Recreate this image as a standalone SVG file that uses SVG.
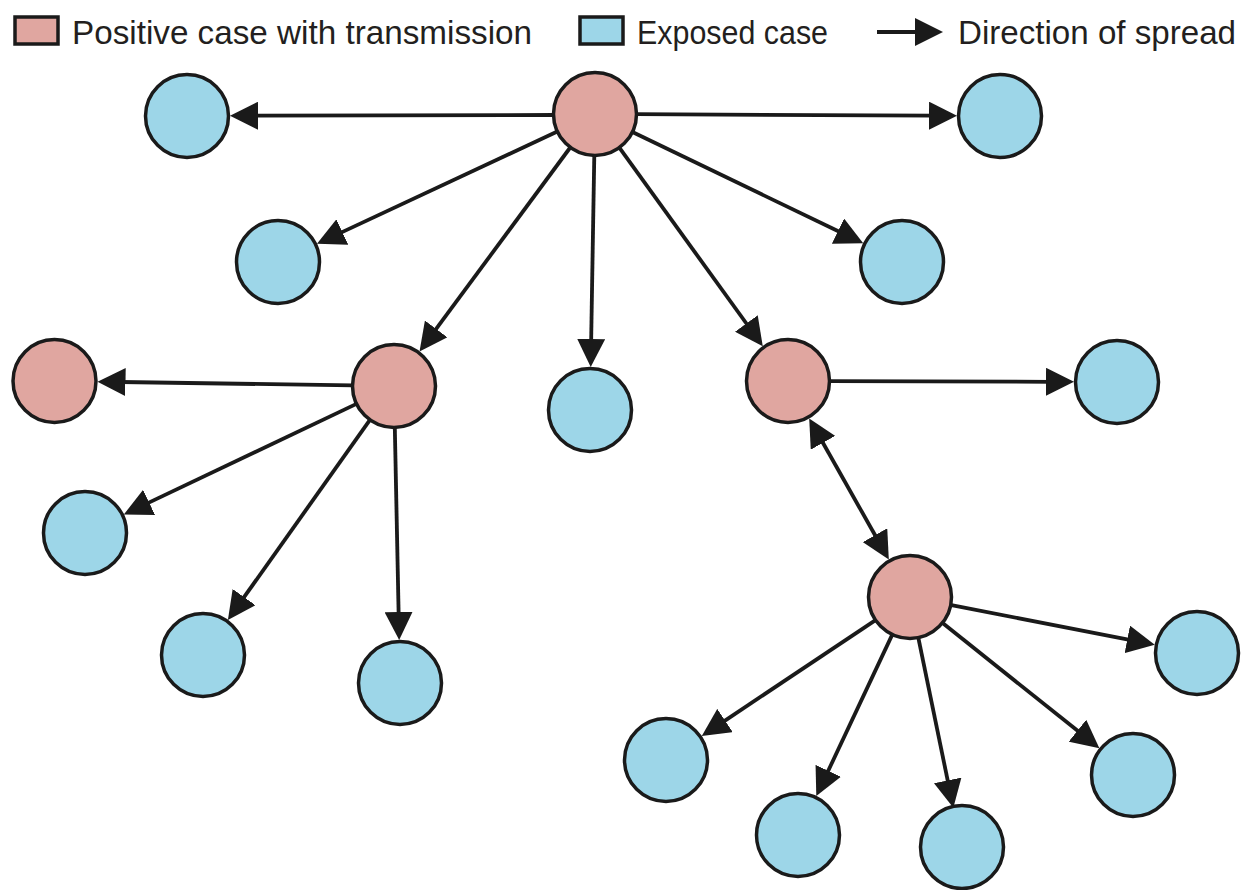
<svg xmlns="http://www.w3.org/2000/svg" width="1250" height="890" viewBox="0 0 1250 890">
<defs>
<style>
.pos{fill:#E0A6A0;stroke:#1a1a1a;stroke-width:3.5}
.exp{fill:#9DD6E8;stroke:#1a1a1a;stroke-width:3.5}
.edge{stroke:#1a1a1a;stroke-width:3.8;fill:none;marker-end:url(#ah)}
.lbl{font-family:"Liberation Sans",Arial,sans-serif;font-size:34px;fill:#231f20}
</style>
<marker id="ah" markerUnits="userSpaceOnUse" markerWidth="28" markerHeight="28" refX="5" refY="14" orient="auto-start-reverse">
<path d="M0,0 L28,14 L0,28 z" fill="#1a1a1a"/>
</marker>
</defs>
<rect width="1250" height="890" fill="#ffffff"/>
<g id="legend">
<rect x="15" y="17" width="43" height="27" class="pos" stroke-width="4"/>
<text x="72" y="44" class="lbl" textLength="460" lengthAdjust="spacingAndGlyphs">Positive case with transmission</text>
<rect x="580" y="17" width="43" height="27" class="exp" stroke-width="4"/>
<text x="637" y="44" class="lbl" textLength="191" lengthAdjust="spacingAndGlyphs">Exposed case</text>
<line x1="877" y1="32" x2="920" y2="32" class="edge"/>
<text x="958" y="44" class="lbl" textLength="278" lengthAdjust="spacingAndGlyphs">Direction of spread</text>
</g>
<g id="connectors">
<line class="edge" x1="554" y1="115" x2="253" y2="115.7"/>
<line class="edge" x1="636" y1="114.2" x2="934" y2="115.7"/>
<line class="edge" x1="557.9" y1="131.3" x2="337.8" y2="234.1"/>
<line class="edge" x1="631.9" y1="131.8" x2="842.5" y2="233.3"/>
<line class="edge" x1="570.6" y1="147" x2="433.2" y2="332.9"/>
<line class="edge" x1="594.3" y1="155" x2="591.1" y2="344"/>
<line class="edge" x1="619" y1="147.2" x2="749.3" y2="327.5"/>
<line class="edge" x1="353" y1="385.4" x2="120.5" y2="382"/>
<line class="edge" x1="357" y1="403.6" x2="144.6" y2="504.6"/>
<line class="edge" x1="370.3" y1="419.4" x2="241.2" y2="601.2"/>
<line class="edge" x1="394.8" y1="427" x2="398.7" y2="617"/>
<line class="edge" x1="829" y1="381.1" x2="1051" y2="381.8"/>
<line class="edge" x1="820.5" y1="438.5" x2="877.5" y2="539.5" marker-start="url(#ah)"/>
<line class="edge" x1="950.2" y1="604.9" x2="1132.2" y2="640.3"/>
<line class="edge" x1="875.9" y1="619.8" x2="720.9" y2="723.3"/>
<line class="edge" x1="942" y1="622.6" x2="1081.4" y2="733.8"/>
<line class="edge" x1="892.5" y1="634.1" x2="826.1" y2="775.3"/>
<line class="edge" x1="918.2" y1="637.2" x2="948.7" y2="785.3"/>
</g>
<g id="n-top"><circle class="pos" cx="595" cy="114" r="41.5"/></g>
<g id="n-topleft"><circle class="exp" cx="187" cy="116" r="41.5"/></g>
<g id="n-topright"><circle class="exp" cx="1000" cy="116" r="41.5"/></g>
<g id="n-row2left"><circle class="exp" cx="278" cy="262" r="41.5"/></g>
<g id="n-row2right"><circle class="exp" cx="902" cy="262" r="41.5"/></g>
<g id="n-posleft"><circle class="pos" cx="394" cy="386" r="41.5"/></g>
<g id="n-posfarleft"><circle class="pos" cx="54.5" cy="381" r="41.5"/></g>
<g id="n-center"><circle class="exp" cx="590" cy="410" r="41.5"/></g>
<g id="n-posright"><circle class="pos" cx="788" cy="381" r="41.5"/></g>
<g id="n-right"><circle class="exp" cx="1117" cy="382" r="41.5"/></g>
<g id="n-l1"><circle class="exp" cx="85" cy="533" r="41.5"/></g>
<g id="n-l2"><circle class="exp" cx="203" cy="655" r="41.5"/></g>
<g id="n-l3"><circle class="exp" cx="400" cy="683" r="41.5"/></g>
<g id="n-poslow"><circle class="pos" cx="910" cy="597" r="41.5"/></g>
<g id="n-r1"><circle class="exp" cx="1197" cy="653" r="41.5"/></g>
<g id="n-r2"><circle class="exp" cx="666" cy="760" r="41.5"/></g>
<g id="n-r3"><circle class="exp" cx="1133" cy="775" r="41.5"/></g>
<g id="n-r4"><circle class="exp" cx="798" cy="835" r="41.5"/></g>
<g id="n-r5"><circle class="exp" cx="962" cy="847" r="41.5"/></g>
</svg>
